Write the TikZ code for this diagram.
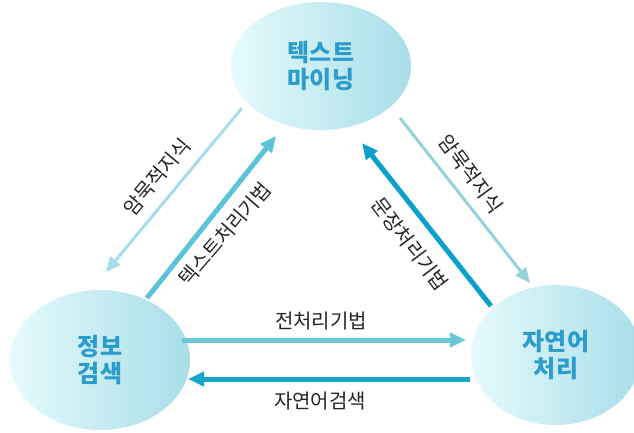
\documentclass[tikz,border=0pt]{standalone}
\usepackage{fontspec}
\newfontfamily\kr{Noto Sans CJK KR}
\usetikzlibrary{shapes.geometric,arrows.meta}
\definecolor{nodetext}{HTML}{2C9CCB}
\definecolor{ellL}{HTML}{E6FAFC}
\definecolor{ellR}{HTML}{A8DEE8}
\definecolor{thinA}{HTML}{A6DDEA}
\definecolor{thinB}{HTML}{96D2DC}
\definecolor{midA}{HTML}{5CC4DA}
\definecolor{darkA}{HTML}{0CA0CC}
\definecolor{horA}{HTML}{6AC8D6}
\definecolor{horB}{HTML}{18A4C6}
\tikzset{
  blob/.style={ellipse, draw=none, left color=ellL, right color=ellR,
    align=center, text=nodetext, font=\kr\bfseries\fontsize{24}{27}\selectfont, inner sep=0pt},
  lbl/.style={font=\kr\fontsize{20}{22}\selectfont, text=black!85, inner sep=0pt},
  thinarrow/.style={line width=3pt, -{Triangle[length=15pt,width=13pt]}},
  fatarrow/.style={line width=5pt, -{Triangle[length=16pt,width=14pt]}},
}
\begin{document}
\begin{tikzpicture}[x=1pt,y=-1pt]
\useasboundingbox (0,0) rectangle (634,432);
\fill[white] (0,0) rectangle (634,432);
\begin{scope}
\clip (0,0) rectangle (634,432);
\node[blob, minimum width=180pt, minimum height=128pt] (tm) at (321,66) {텍스트\\마이닝};
\node[blob, minimum width=180pt, minimum height=140pt] (ir) at (100,360) {정보\\검색};
\node[blob, minimum width=170pt, minimum height=140pt] (nlp) at (556,355) {자연어\\처리};
\end{scope}
% connector end points on the ellipses
\coordinate (a1) at (242,108);
\coordinate (a2) at (106,272);
\coordinate (b1) at (147,298);
\coordinate (b2) at (276,136);
\coordinate (c1) at (400,118);
\coordinate (c2) at (530,283);
\coordinate (d1) at (491,306);
\coordinate (d2) at (362,143);
\coordinate (e1) at (182,340);
\coordinate (e2) at (466,340);
\coordinate (f1) at (470,379);
\coordinate (f2) at (188,379);
\draw[thinarrow, thinA] (a1) -- (a2);
\draw[fatarrow, midA] (b1) -- (b2);
\draw[thinarrow, thinB] (c1) -- (c2);
\draw[fatarrow, darkA] (d1) -- (d2);
\draw[fatarrow, horA] (e1) -- (e2);
\draw[fatarrow, horB] (f1) -- (f2);
% labels
\node[lbl, rotate=50] (l1) at (157,177) {암묵적지식};
\node[lbl, rotate=49] (l2) at (225,234) {텍스트처리기법};
\node[lbl, rotate=-54] (l3) at (471,174) {암묵적지식};
\node[lbl, rotate=-53] (l4) at (410,244) {문장처리기법};
\node[lbl] (l5) at (321,321) {전처리기법};
\node[lbl] (l6) at (320,401) {자연어검색};
\end{tikzpicture}
\end{document}
